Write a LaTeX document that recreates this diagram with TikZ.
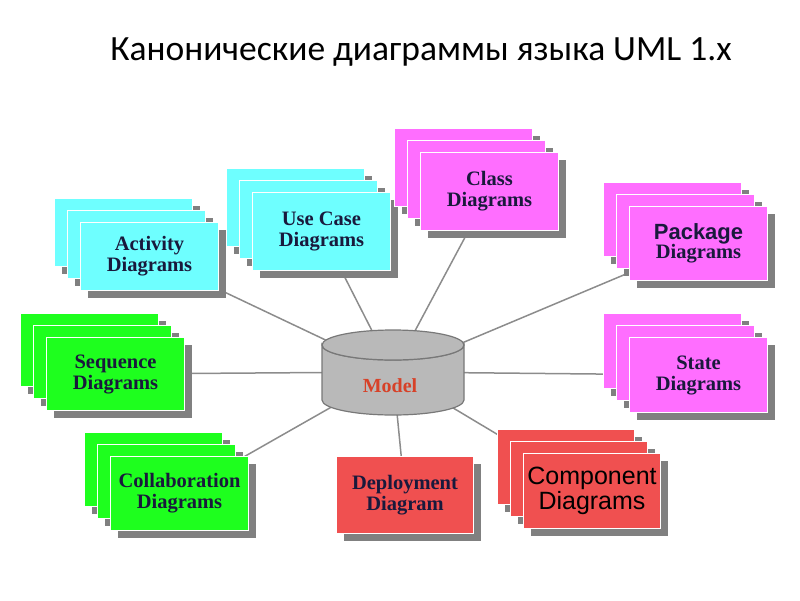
\documentclass[tikz,border=0pt]{standalone}
\usepackage{fontspec}
\setmainfont{Liberation Serif}
\newfontfamily\titlefont{Carlito}
\newfontfamily\arialf{Liberation Sans}
\pgfdeclarelayer{bg}\pgfsetlayers{bg,main}
\definecolor{cyanc}{RGB}{110,255,255}
\definecolor{magc}{RGB}{255,110,255}
\definecolor{grnc}{RGB}{30,255,30}
\definecolor{redc}{RGB}{240,80,80}
\definecolor{shad}{RGB}{128,128,128}
\definecolor{txtc}{RGB}{25,25,60}
\definecolor{linec}{RGB}{140,140,140}
\definecolor{cylf}{RGB}{185,185,185}
\definecolor{cyld}{RGB}{120,120,120}
\tikzset{
 sheet/.style={draw=white,line width=1pt,anchor=north west,align=center,text=txtc,
   font=\bfseries\fontsize{20.5}{21}\selectfont,inner sep=2pt},
 conn/.style={draw=linec,line width=1.5pt},
}
% name x y w h color text
\newcommand\mysheet[7]{%
 \fill[shad] (#2+8,#3+8) rectangle ++(#4,#5);
 \node[sheet,fill=#6,minimum width=#4pt,minimum height=#5pt] (#1) at (#2,#3) {#7};}
\newcommand\mystack[7]{%
 \mysheet{#1a}{#2}{#3}{#4}{#5}{#6}{}%
 \mysheet{#1b}{#2+13}{#3+12}{#4}{#5}{#6}{}%
 \mysheet{#1}{#2+26}{#3+24}{#4}{#5}{#6}{#7}}
\begin{document}
\begin{tikzpicture}[x=1pt,y=-1pt]
\useasboundingbox (0,0) rectangle (800,600);
\node[font=\titlefont\fontsize{35.5}{38}\selectfont] (title) at (421,52) {Канонические диаграммы языка UML 1.x};
\node[minimum width=143pt,minimum height=85pt,inner sep=0pt] (model) at (393,372) {};
\filldraw[fill=cylf,draw=cyld,line width=1.2pt] (322,345) -- (322,400)
  arc[start angle=180,end angle=360,x radius=71pt,y radius=15pt] -- (464,345)
  arc[start angle=0,end angle=-180,x radius=71pt,y radius=15pt] -- cycle;
\filldraw[fill=cylf,draw=cyld,line width=1.2pt] (393,345) ellipse[x radius=71pt,y radius=15pt];
\node[font=\bfseries\fontsize{20}{21}\selectfont,text={rgb,255:red,215;green,65;blue,40}] at (390,386) {Model};
\mystack{act}{54}{198}{138}{68}{cyanc}{Activity\\Diagrams}
\mystack{use}{226}{168}{138}{78}{cyanc}{Use Case\\Diagrams}
\mystack{cls}{394}{128}{138}{78}{magc}{Class\\Diagrams}
\mystack{pkg}{603}{182}{138}{74}{magc}{{\arialf\fontsize{22}{24}\selectfont Package}\\[-2pt]Diagrams}
\mystack{seq}{20}{313}{138}{73}{grnc}{Sequence\\Diagrams}
\mystack{sta}{603}{313}{138}{75}{magc}{State\\Diagrams}
\mystack{col}{84}{432}{138}{74}{grnc}{Collaboration\\Diagrams}
\mysheet{dep}{336}{456}{137}{77}{redc}{Deployment\\Diagram}
\mystack{cmp}{497}{429}{137}{75}{redc}{\arialf\mdseries\color{black}\fontsize{25}{28}\selectfont Component\\\arialf\mdseries\color{black}\fontsize{25}{28}\selectfont Diagrams}
\begin{pgfonlayer}{bg}
\foreach \n in {act,use,cls,pkg,seq,sta,col,dep,cmp} \draw[conn] (model.center) -- (\n.center);
\end{pgfonlayer}
\end{tikzpicture}
\end{document}
